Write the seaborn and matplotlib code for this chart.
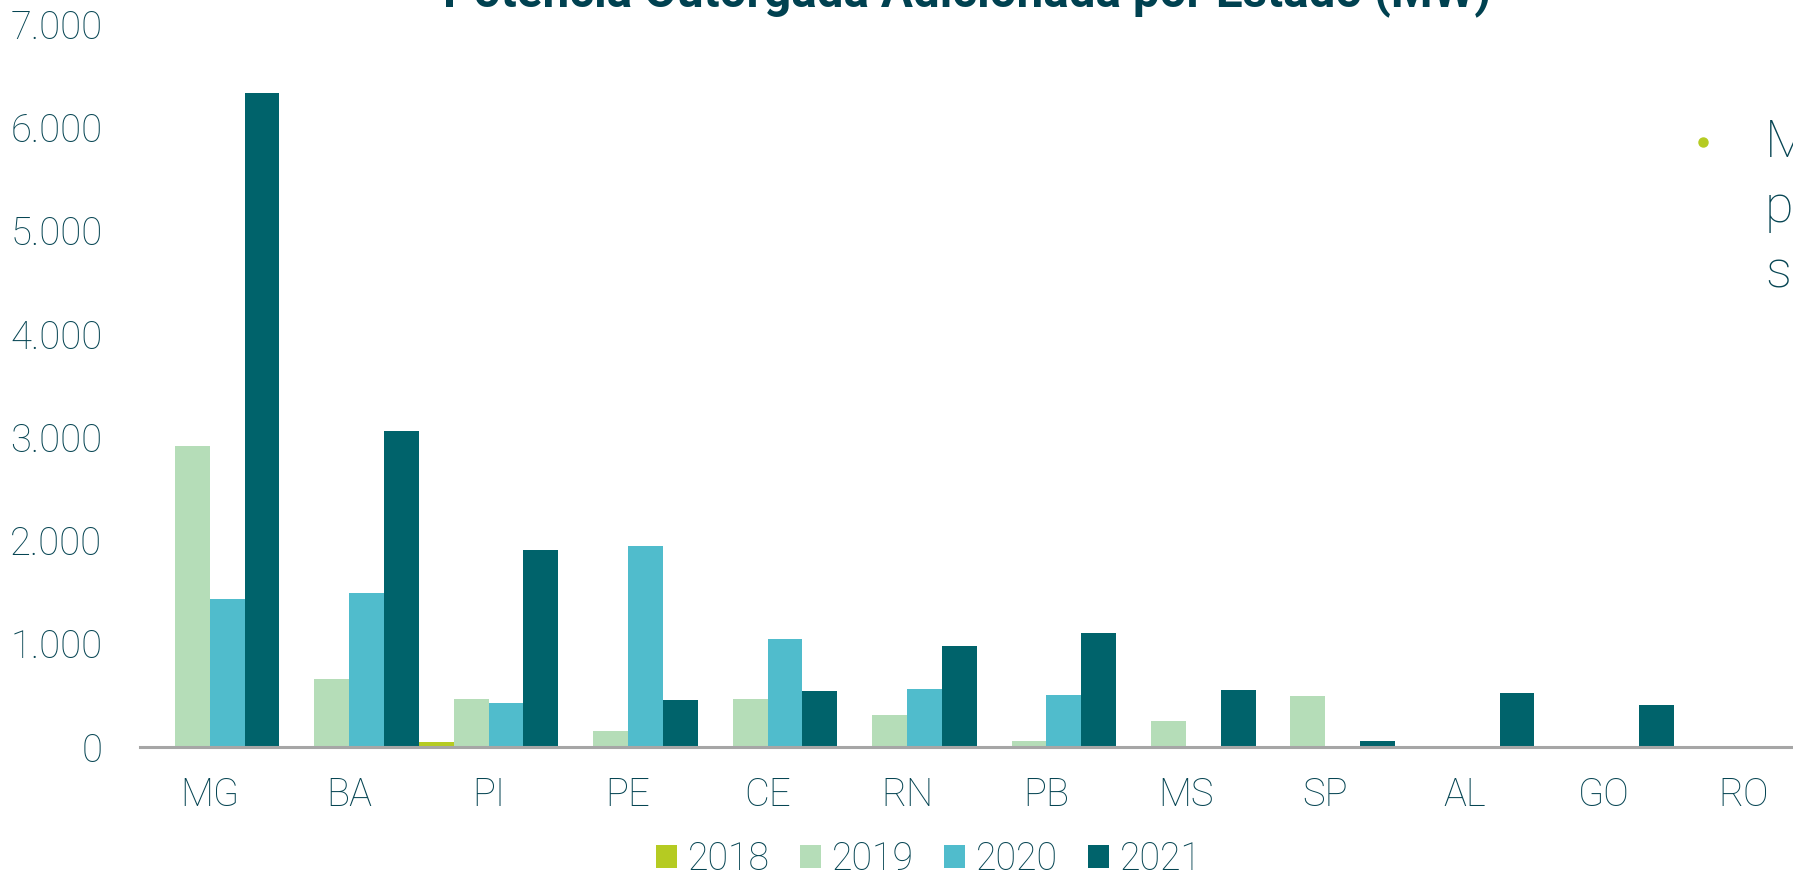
import numpy as np
import pandas as pd
import matplotlib
matplotlib.use("Agg")
import matplotlib.pyplot as plt
import seaborn as sns
from matplotlib.lines import Line2D
from matplotlib.patches import Patch

# Potência outorgada adicionada (MW) por estado e ano
estados = ["MG", "BA", "PI", "PE", "CE", "RN", "PB", "MS", "SP", "AL", "GO", "RO"]
anos = ["2018", "2019", "2020", "2021"]
mw_2018 = [0, 0, 45, 0, 0, 0, 0, 0, 0, 0, 0, 0]
mw_2019 = [2917, 655, 465, 158, 462, 307, 60, 255, 497, 0, 0, 0]
mw_2020 = [1433, 1488, 429, 1946, 1048, 559, 506, 0, 0, 0, 0, 0]
mw_2021 = [6335, 3059, 1910, 455, 545, 981, 1100, 549, 60, 526, 404, 0]
y_ticks = [0, 1000, 2000, 3000, 4000, 5000, 6000, 7000]
y_tick_labels = ["0", "1.000", "2.000", "3.000", "4.000", "5.000", "6.000", "7.000"]
titulo = "Potência Outorgada Adicionada por Estado (MW)"
texto_lateral = ["M", "pe", "se"]

cores = {"2018": "#B5CB22", "2019": "#B5DDB8", "2020": "#50BCCC", "2021": "#00636B"}
cor_texto = "#064553"
cor_titulo = "#004150"

df = pd.DataFrame({
    "Estado": estados * len(anos),
    "Ano": np.repeat(anos, len(estados)),
    "MW": mw_2018 + mw_2019 + mw_2020 + mw_2021,
})

sns.set_theme(style="white")
plt.rcParams["font.family"] = ["Roboto", "DejaVu Sans"]

W, H = 1793, 875
fig = plt.figure(figsize=(W / 100, H / 100), dpi=100)
ax = fig.add_axes([140 / W, 1 - 747 / H, 12 * 139.45 / W, (747 - 24) / H])

sns.barplot(data=df, x="Estado", y="MW", hue="Ano", hue_order=anos,
            palette=cores, width=1.0, gap=0, saturation=1, errorbar=None,
            linewidth=0, ax=ax, legend=False)

ax.set_xlim(-0.5, 11.5)
ax.set_ylim(0, 7000)
ax.set_xlabel("")
ax.set_ylabel("")
ax.set_yticks(y_ticks)
ax.set_yticklabels(y_tick_labels)
for side in ["top", "right", "left"]:
    ax.spines[side].set_visible(False)
ax.spines["bottom"].set_color("#A6A6A6")
ax.spines["bottom"].set_linewidth(2.2)
ax.tick_params(axis="both", length=0, labelsize=27.5, labelcolor=cor_texto)
ax.tick_params(axis="x", pad=21)
ax.tick_params(axis="y", pad=27)
for lab in ax.get_xticklabels() + ax.get_yticklabels():
    lab.set_fontweight("light")

# Legenda
handles = [Patch(facecolor=cores[a], edgecolor="none") for a in anos]
fig.legend(handles, anos, loc="center", bbox_to_anchor=(929 / W, 1 - 859 / H),
           ncol=4, frameon=False, handlelength=0.55, handleheight=0.55,
           handletextpad=0.3, columnspacing=0.8, labelcolor=cor_texto,
           prop={"family": ["Roboto", "DejaVu Sans"], "weight": "light", "size": 27})

# Título ajustado à largura desejada
t = fig.text(967 / W, 1 - 6.5 / H, titulo, ha="center", va="baseline",
             fontsize=29, fontweight="bold", color=cor_titulo)
fig.canvas.draw()
largura = t.get_window_extent().width
t.set_fontsize(29 * 1048 / largura)

# Texto lateral com marcador
fig.add_artist(Line2D([1703 / W], [1 - 142 / H], transform=fig.transFigure,
                      marker="o", markersize=6.5, color="#B5CB22", linestyle="none"))
for linha, base in zip(texto_lateral, [157, 222, 288]):
    fig.text(1765 / W, 1 - base / H, linha, ha="left", va="baseline",
             fontsize=37.5, fontweight="light", color=cor_texto)

fig.savefig("out.png", dpi=100)
